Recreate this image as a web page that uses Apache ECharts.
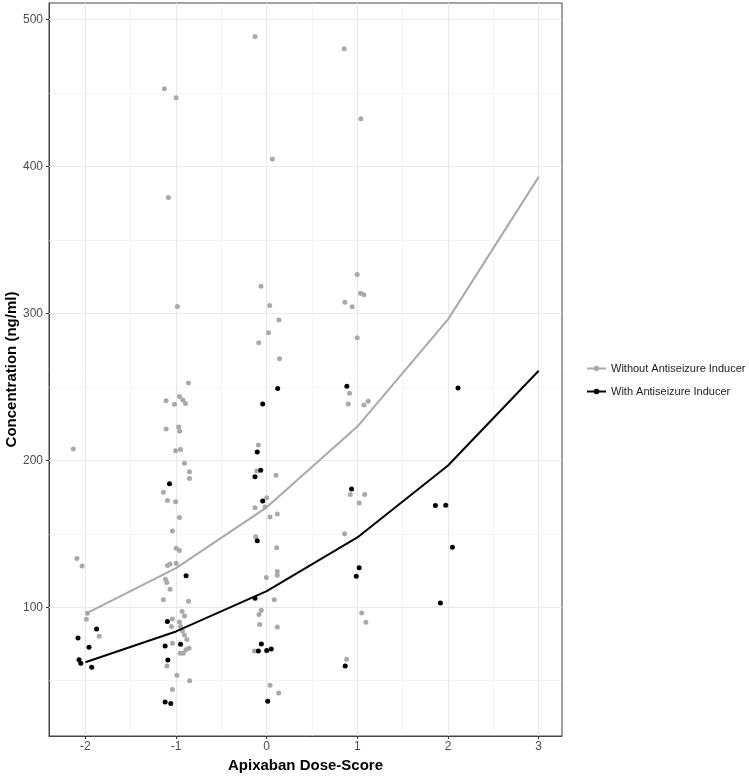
<!DOCTYPE html>
<html><head><meta charset="utf-8">
<script src="https://cdn.jsdelivr.net/npm/echarts@6/dist/echarts.min.js"></script>
<style>html,body{margin:0;padding:0;background:#fff}#c{width:749px;height:777px}</style>
</head><body><div id="c"></div>
<script>
// Points without antiseizure inducer (jittered dose-score, concentration ng/ml)
const withoutDose = [
  -2.133,-2.093,-2.037,-1.976,-1.99,-1.847,
  -1.128,-0.999,-1.084,-0.985,-0.863,-1.109,-1.017,-0.962,-0.925,-0.896,
  -1.109,-0.97,-0.96,-1.004,-0.95,-0.907,-0.852,-0.852,-1.139,-1.095,-1.004,-0.962,-1.04,-0.998,-0.962,
  -1.095,-1.066,-0.998,-1.117,-1.102,-1.066,-1.139,-0.863,-1.04,-0.933,-0.907,-0.962,-1.05,-0.95,-0.93,
  -0.907,-0.88,-0.856,-1.04,-0.955,-0.92,-0.89,-1.10,-0.99,-0.85,-1.04,
  -0.129,0.062,-0.063,0.033,0.135,0.019,-0.088,0.142,
  -0.092,-0.11,0.102,0.0,-0.129,-0.018,0.037,0.117,-0.121,0.11,-0.004,0.117,0.117,0.084,-0.06,-0.085,
  -0.077,0.117,-0.136,0.037,0.132,
  0.855,1.039,0.998,0.863,0.943,1.035,1.072,0.998,0.914,0.9,1.072,1.119,0.921,1.02,1.08,0.859,1.048,1.094,0.881
];
const withoutConc = [
  207.7,133.2,128,95.9,91.8,80.2,
  453,446.8,378.9,304.8,252.7,240.5,238.2,243.4,241.1,238.7,
  221.4,222.7,219.8,206.6,207.3,198,192.3,187.7,178.2,172.7,171.8,161.1,151.8,140.2,138.6,
  128.4,129.5,130,119.1,116.8,112.3,105,104.1,92,97,94,90,86.8,86.8,84,
  81,78,72,75.5,68.6,68.6,71,60,53.6,50,43.9,
  488.6,405.2,318.6,305.5,295.5,286.8,280,269.1,
  210.5,192.7,189.8,174.5,167.7,168.2,161.4,163.4,148,140.5,120.2,124.3,121.8,105,98,95,
  88.2,86.6,70.2,46.8,41.6,
  480.2,432.6,326.5,307.7,304.5,313.7,312.8,283.4,245.7,238.3,237.7,240.3,176.7,170.9,176.7,150,96,89.8,64.5
];
// Points with antiseizure inducer
const withDose = [
  -1.876,-2.081,-1.96,-2.07,-2.05,-1.93,
  -1.072,-0.889,-1.095,-1.12,-0.95,-1.09,-1.12,-1.058,
  0.121,-0.044,-0.104,-0.066,-0.129,-0.044,-0.104,-0.129,-0.059,-0.092,0.0,0.05,0.011,
  0.884,0.936,1.02,0.988,0.866,
  2.11,1.861,1.975,2.048,1.916
];
const withConc = [
  85.2,79.1,72.7,64.3,61.8,59.1,
  184,121.4,90.2,73.6,74.8,64.1,35.5,34.5,
  248.9,238.4,205.7,193.2,188.9,172.3,145.2,106.1,75,70.2,70.5,71.6,35.9,
  250.5,180.5,126.8,121,60,
  249.3,169.3,169.5,140.9,102.9
];
// Fitted curves
const fitDose = [-2,-1,0,1,2,3];
const fitWithout = [95.4,126.6,168,223,296,393];
const fitWith = [62.5,83.5,111,147.5,196.5,261];
// Axis ticks and grid
const xTicks = [-2,-1,0,1,2,3];
const yTicks = [100,200,300,400,500];
const xMinorGrid = [-1.5,-0.5,0.5,1.5,2.5];
const yMinorGrid = [50,150,250,350,450];

const FONT = "'Liberation Sans', Arial, Helvetica, sans-serif";
const GREY = '#a9a9a9';
const zip = (a,b) => a.map((v,i)=>[v,b[i]]);

const gridLines = []
  .concat(xMinorGrid.map(v=>({xAxis:v, lineStyle:{color:'#efefef',width:0.6,type:'solid'}})))
  .concat(yMinorGrid.map(v=>({yAxis:v, lineStyle:{color:'#efefef',width:0.6,type:'solid'}})))
  .concat(xTicks.map(v=>({xAxis:v, lineStyle:{color:'#e8e8e8',width:1,type:'solid'}})))
  .concat(yTicks.map(v=>({yAxis:v, lineStyle:{color:'#e8e8e8',width:1,type:'solid'}})));

const chart = echarts.init(document.getElementById('c'), null, {renderer:'canvas'});
chart.setOption({
  animation:false,
  backgroundColor:'#fff',
  grid:{left:49, right:187, top:3, bottom:41, show:true, borderColor:'#444', borderWidth:1,
        containLabel:false, outerBoundsMode:'none'},
  legend:{
    orient:'vertical', left:581, top:358, itemWidth:19, itemHeight:7, itemGap:12,
    selectedMode:false,
    textStyle:{fontSize:11, color:'#1a1a1a', fontFamily:FONT},
    data:['Without Antiseizure Inducer','With Antiseizure Inducer']
  },
  xAxis:{
    type:'value', min:-2.401, max:3.257,
    axisLine:{show:true, onZero:false, lineStyle:{color:'#444'}},
    axisTick:{show:true, length:3, lineStyle:{color:'#333'}, customValues:xTicks},
    axisLabel:{customValues:xTicks, color:'#4d4d4d', fontSize:12, margin:5, fontFamily:FONT},
    splitLine:{show:false},
    name:'Apixaban Dose-Score', nameLocation:'middle', nameGap:22, nameMoveOverlap:false,
    nameTextStyle:{fontWeight:'bold', fontSize:15, color:'#000', fontFamily:FONT}
  },
  yAxis:{
    type:'value', min:12.3, max:511.4,
    axisLine:{show:true, onZero:false, lineStyle:{color:'#444'}},
    axisTick:{show:true, length:3, lineStyle:{color:'#333'}, customValues:yTicks},
    axisLabel:{customValues:yTicks, color:'#4d4d4d', fontSize:12, margin:6, fontFamily:FONT},
    splitLine:{show:false},
    name:'Concentration (ng/ml)', nameLocation:'middle', nameGap:30, nameRotate:90, nameMoveOverlap:false,
    nameTextStyle:{fontWeight:'bold', fontSize:15, color:'#000', fontFamily:FONT}
  },
  series:[
    {type:'line', name:'grid', data:[], z:1, silent:true,
     markLine:{z:1, silent:true, symbol:['none','none'], label:{show:false}, animation:false,
               emphasis:{disabled:true}, data:gridLines}},
    {type:'scatter', name:'pts-without', data:zip(withoutDose, withoutConc), symbolSize:5,
     itemStyle:{color:GREY, opacity:1}, z:2, silent:true},
    {type:'scatter', name:'pts-with', data:zip(withDose, withConc), symbolSize:5,
     itemStyle:{color:'#000', opacity:1}, z:3, silent:true},
    {type:'line', name:'Without Antiseizure Inducer', data:zip(fitDose, fitWithout),
     symbol:'circle', showSymbol:false, itemStyle:{color:GREY}, lineStyle:{color:GREY, width:2}, z:4, silent:true},
    {type:'line', name:'With Antiseizure Inducer', data:zip(fitDose, fitWith),
     symbol:'circle', showSymbol:false, itemStyle:{color:'#000'}, lineStyle:{color:'#000', width:2}, z:5, silent:true}
  ]
});
</script></body></html>
